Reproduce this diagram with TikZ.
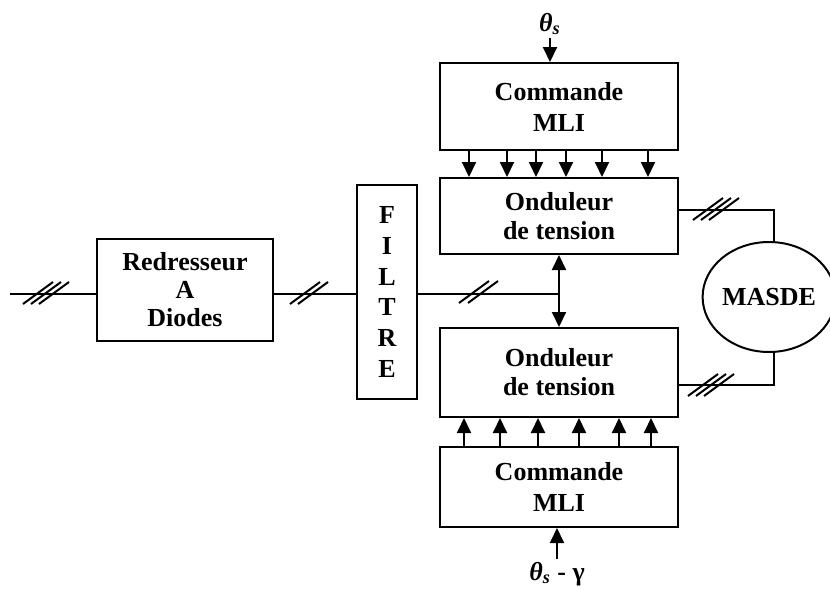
\documentclass[tikz,border=0pt]{standalone}
\usepackage{fontspec}
\setmainfont{Liberation Serif}
\usetikzlibrary{shapes.geometric,arrows.meta}

\tikzset{
	bloc/.style={draw,line width=1pt,inner sep=0pt,align=center,minimum width=119pt},
	texte/.style={font=\fontsize{13}{#1}\selectfont\bfseries},
	barre/.pic={\draw[line width=1pt] (-7.5pt,-5.5pt) -- (7.5pt,5.5pt);}
}

\begin{document}
\begin{tikzpicture}[x=0.5pt,y=-0.5pt,line width=1pt,>={Triangle[width=7pt,length=7.5pt]}]
	\useasboundingbox (0,0) rectangle (830,589);
	\node[bloc,texte=14pt,minimum width=88pt,minimum height=51pt] (redr) at (185,290) {Redresseur\\A\\Diodes};
	\node[bloc,texte=15.4pt,minimum width=30pt,minimum height=107pt] (filtre) at (387,292) {F\\I\\L\\T\\R\\E};
	\node[bloc,texte=15.5pt,minimum height=43.5pt] (cmdA) at (559,106.5) {Commande\\MLI};
	\node[bloc,texte=14.5pt,minimum height=38pt] (ondA) at (559,216) {Onduleur\\de tension};
	\node[bloc,texte=14.5pt,minimum height=44.5pt] (ondB) at (559,372.5) {Onduleur\\de tension};
	\node[bloc,texte=15.5pt,minimum height=40pt] (cmdB) at (559,487) {Commande\\MLI};
	\node[draw,ellipse,texte=14pt,inner sep=0pt,minimum width=61pt,minimum height=55pt] (masde) at (769,297) {MASDE};
	\node[texte=14pt,inner sep=1pt] (ts) at (550,24) {\itshape θ\textsubscript{s}};
	\node[texte=14pt,inner sep=1pt] (tsg) at (557,574) {{\itshape θ\textsubscript{s}} - γ};

	% alimentation et bus continu
	\coordinate (e) at (10,294);
	\draw (e) -- (e -| redr.west);
	\draw (e -| redr.east) -- (e -| filtre.west);
	\draw (e -| filtre.east) -- (e -| ondA.south);
	\draw[<->] (ondA.south) -- (ondB.north);
	\foreach \h in {38,46,54} \pic at (\h,293) {barre};
	\foreach \h in {305,313} \pic at (\h,293) {barre};
	\foreach \h in {474,483} \pic at (\h,292) {barre};

	% liaisons vers la machine
	\coordinate (m1) at (774,210);
	\coordinate (m2) at (774,385);
	\draw (m1 -| ondA.east) -- (m1) -- (m1 |- masde.north);
	\draw (m2 -| ondB.east) -- (m2) -- (m2 |- masde.south);
	\foreach \h in {708,716,724} \pic at (\h,209) {barre};
	\foreach \h in {703,711,719} \pic at (\h,385) {barre};

	% signaux de commande
	\draw[->] (ts) -- (cmdA.north -| ts);
	\draw[->] (tsg) -- (cmdB.south -| tsg);
	\foreach \d in {30,68,97,127,163,209}
		\draw[->] ([xshift=\d*0.5pt]cmdA.south west) -- ([xshift=\d*0.5pt]ondA.north west);
	\foreach \d in {25,61,99,140,180,212}
		\draw[->] ([xshift=\d*0.5pt]cmdB.north west) -- ([xshift=\d*0.5pt]ondB.south west);
\end{tikzpicture}
\end{document}
